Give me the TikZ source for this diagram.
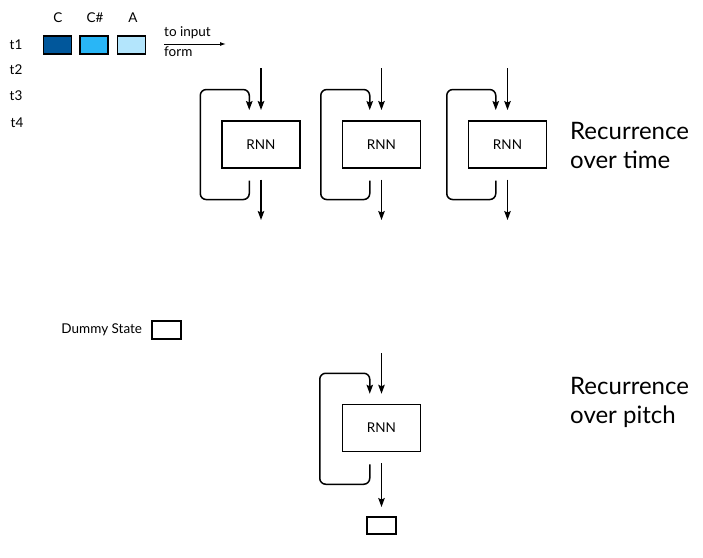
\documentclass[tikz,border=0pt]{standalone}
\usepackage{fontspec}
\setmainfont{Lato}
\usepackage{tikz}
\usetikzlibrary{positioning, arrows.meta}
\definecolor{noteC}{HTML}{01579B}
\definecolor{noteCs}{HTML}{29B6F6}
\definecolor{noteA}{HTML}{B3E5FC}
\tikzset{
    arr/.style={-{Stealth[length=9pt,width=6.5pt,inset=1.5pt]}, line width=1.5pt},
    rnnbox/.style={draw, line width=1.5pt, minimum width=78pt, minimum height=47pt, inner sep=0pt, font=\fontsize{13.5}{16}\selectfont},
    notebox/.style={draw, line width=1.8pt, minimum width=28pt, minimum height=18pt, inner sep=0pt},
    statebox/.style={draw, line width=1.5pt, minimum width=29pt, minimum height=17pt, inner sep=0pt},
    lbl/.style={font=\fontsize{13.5}{16}\selectfont, inner sep=0pt},
    big/.style={font=\fontsize{24}{29}\selectfont, align=left, anchor=west, inner sep=0pt}
}
\begin{document}
\begin{tikzpicture}[x=1pt,y=-1pt]
        \useasboundingbox (0,0) rectangle (703,557);
        % Time steps
        \node[lbl] (t1) at (16,45) {t1};
        \node[lbl] (t2) at (16,70) {t2};
        \node[lbl] (t3) at (16,96) {t3};
        \node[lbl] (t4) at (17,123) {t4};
        % Notes
        \node[lbl] (nameC) at (58,18) {C};
        \node[lbl] (nameCs) at (95,18) {C\#};
        \node[lbl] (nameA) at (133,18) {A};
        \node[notebox, fill=noteC] (boxC) at (57.5,45) {};
        \node[notebox, fill=noteCs] (boxCs) at (94,45) {};
        \node[notebox, fill=noteA] (boxA) at (131.5,45) {};
        % To input form
        \coordinate (formL) at (164,44);
        \coordinate (formR) at (226,44);
        \draw[-{Latex[open,length=6pt,width=4pt]}, line width=1pt] (formL) -- (formR);
        \node[lbl, anchor=south west] (toinput) at (164,39.5) {to input};
        \node[lbl, anchor=north west] (form) at (164,46.5) {form};
        % First RNN
        \node[rnnbox] (rnn1) at (261,144.3) {RNN};
        \coordinate (in1) at (261,68);
        \coordinate (out1) at (261,220);
        \draw[arr] (in1) -- ([yshift=10pt]rnn1.north);
        \draw[arr] ([yshift=-11pt]rnn1.south) -- (out1);
        \draw[arr, rounded corners=6pt] ([xshift=28pt,yshift=-12pt]rnn1.south west) -- ++(0,19) -| ++(-49,-110) -| ([xshift=28pt,yshift=10pt]rnn1.north west);
        % Second RNN
        \node[rnnbox] (rnn2) at (381.5,144.3) {RNN};
        \coordinate (in2) at (381.5,68);
        \coordinate (out2) at (381.5,220);
        \draw[arr] (in2) -- ([yshift=10pt]rnn2.north);
        \draw[arr] ([yshift=-11pt]rnn2.south) -- (out2);
        \draw[arr, rounded corners=6pt] ([xshift=28pt,yshift=-12pt]rnn2.south west) -- ++(0,19) -| ++(-49,-110) -| ([xshift=28pt,yshift=10pt]rnn2.north west);
        % Third RNN
        \node[rnnbox] (rnn3) at (507.5,144.3) {RNN};
        \coordinate (in3) at (507.5,68);
        \coordinate (out3) at (507.5,220);
        \draw[arr] (in3) -- ([yshift=10pt]rnn3.north);
        \draw[arr] ([yshift=-11pt]rnn3.south) -- (out3);
        \draw[arr, rounded corners=6pt] ([xshift=28pt,yshift=-12pt]rnn3.south west) -- ++(0,19) -| ++(-49,-110) -| ([xshift=28pt,yshift=10pt]rnn3.north west);
        \node[big] (overtime) at (570,145) {Recurrence\\over time};
        % Dummy state
        \node[statebox, minimum height=18pt] (dummy) at (166.5,330) {};
        \node[lbl, left=9pt of dummy] (dummytext) {Dummy State};
        % Pitch RNN
        \node[rnnbox] (rnn4) at (381.5,428) {RNN};
        \coordinate (in4) at (381.5,353);
        \coordinate (out4) at (381.5,507);
        \draw[arr] (in4) -- ([yshift=10pt]rnn4.north);
        \draw[arr] ([yshift=-11pt]rnn4.south) -- (out4);
        \draw[arr, rounded corners=6pt] ([xshift=28pt,yshift=-12pt]rnn4.south west) -- ++(0,20) -| ++(-50,-111) -| ([xshift=28pt,yshift=10pt]rnn4.north west);
        \node[statebox] (state) at (381.5,525.5) {};
        \node[big] (overpitch) at (570,402) {Recurrence\\over pitch};
\end{tikzpicture}
\end{document}
